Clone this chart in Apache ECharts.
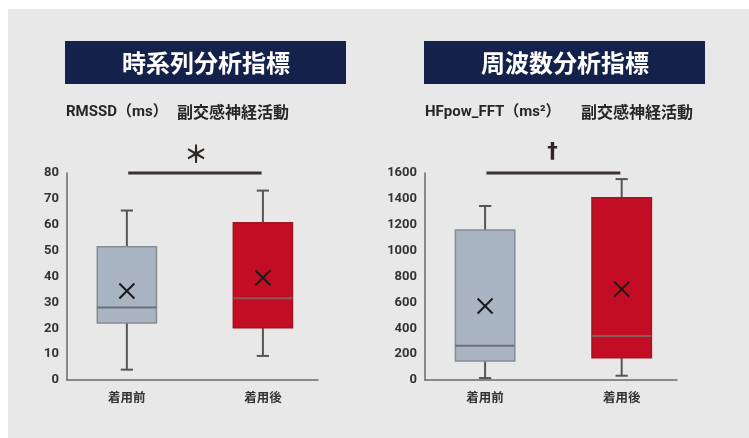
<!DOCTYPE html>
<html><head><meta charset="utf-8">
<script src="https://cdn.jsdelivr.net/npm/echarts@6/dist/echarts.min.js"></script>
<style>html,body{margin:0;padding:0;background:#fff;}#c{width:749px;height:438px;}</style>
</head><body><div id="c"></div>
<script>
// ---- data ----
const categories = ['着用前', '着用後'];
// [min, Q1, median, Q3, max]
const rmssdBox = [[4, 22, 28, 51.5, 65.5], [9.3, 20.2, 31.6, 60.8, 73.2]];
const rmssdMean = [34.4, 39.5];
const hfBox = [[15, 147, 265, 1159, 1345], [33, 172, 340, 1409, 1553]];
const hfMean = [572, 701];
const rmssdTicks = [0, 80, 10];   // min, max, interval
const hfTicks = [0, 1600, 200];
const sigSpan = [0.01, 0.99];
const rmssdSig = { level: 80, mark: '＊' };
const hfSig = { level: 1600, mark: '†' };

const fills = ['#a9b4c3', '#c20d24'];
const borders = ['#868c94', '#9e1720'];
const medians = ['#6a7078', '#8a5a58'];

function rows(box, mean) {
  return box.map((b, i) => [i].concat(b).concat([mean[i]]));
}

function renderBox(params, api) {
  const i = params.dataIndex;
  const x = api.value(0);
  const v = [1, 2, 3, 4, 5, 6].map(k => api.value(k));
  const p = val => api.coord([x, val]);
  const bw = api.size([0.435, 0])[0];
  const cw = api.size([0.09, 0])[0];
  const c = p(v[0])[0];
  const yMin = p(v[0])[1], yQ1 = p(v[1])[1], yMed = p(v[2])[1], yQ3 = p(v[3])[1], yMax = p(v[4])[1], yMean = p(v[5])[1];
  const wStyle = { stroke: '#555555', lineWidth: 2 };
  const s = 7.5;
  return {
    type: 'group',
    children: [
      { type: 'line', shape: { x1: c, y1: yMax, x2: c, y2: yQ3 }, style: wStyle },
      { type: 'line', shape: { x1: c - cw / 2, y1: yMax, x2: c + cw / 2, y2: yMax }, style: wStyle },
      { type: 'line', shape: { x1: c, y1: yMin, x2: c, y2: yQ1 }, style: wStyle },
      { type: 'line', shape: { x1: c - cw / 2, y1: yMin, x2: c + cw / 2, y2: yMin }, style: wStyle },
      { type: 'rect', shape: { x: c - bw / 2, y: yQ3, width: bw, height: yQ1 - yQ3 },
        style: { fill: fills[i], stroke: borders[i], lineWidth: 1.5 } },
      { type: 'line', shape: { x1: c - bw / 2, y1: yMed, x2: c + bw / 2, y2: yMed },
        style: { stroke: medians[i], lineWidth: 2 } },
      { type: 'line', shape: { x1: c - s, y1: yMean - s, x2: c + s, y2: yMean + s }, style: { stroke: '#1c1c1c', lineWidth: 2 } },
      { type: 'line', shape: { x1: c - s, y1: yMean + s, x2: c + s, y2: yMean - s }, style: { stroke: '#1c1c1c', lineWidth: 2 } }
    ]
  };
}

function renderSig(sig) {
  return function (params, api) {
    const lv = api.value(2);
    const a = api.coord([api.value(0), lv]);
    const b = api.coord([api.value(1), lv]);
    const star = sig.mark === '＊';
    return {
      type: 'group',
      children: [
        { type: 'line', shape: { x1: a[0], y1: a[1], x2: b[0], y2: b[1] }, style: { stroke: '#3a3230', lineWidth: 3 } },
        { type: 'text', x: (a[0] + b[0]) / 2 + (star ? 1 : -1), y: a[1] - (star ? 19 : 20),
          style: { text: sig.mark, fill: '#2e2624', align: 'center', verticalAlign: 'middle',
            font: star ? 'bold 24px "Noto Sans CJK JP"' : 'bold 21px "DejaVu Sans"' } }
      ]
    };
  };
}

const axisColor = '#6a6a6a';

function xAxisOf(gi) {
  return {
    type: 'value', gridIndex: gi, min: -0.44, max: 1.405,
    axisLine: { show: true, onZero: false, lineStyle: { color: axisColor, width: 1.5 } },
    axisTick: { show: false }, splitLine: { show: false },
    axisLabel: {
      customValues: [0, 1], formatter: v => categories[Math.round(v)] || '',
      margin: 11, fontFamily: 'Noto Sans CJK JP', fontWeight: 'bold', fontSize: 12.5, color: '#333'
    }
  };
}
function yAxisOf(gi, t) {
  return {
    type: 'value', gridIndex: gi, min: t[0], max: t[1], interval: t[2],
    axisLine: { show: true, onZero: false, lineStyle: { color: axisColor, width: 1.5 } },
    axisTick: { show: false }, splitLine: { show: false },
    axisLabel: { margin: 8, formatter: v => String(v), fontFamily: 'Roboto', fontWeight: 'bold', fontSize: 13, color: '#333' }
  };
}

const navy = '#14214b';
const latinFont = 'bold 15px Roboto, "Noto Sans CJK JP"';
const subFont = 'bold 16px "Noto Sans CJK JP"';
const chart = echarts.init(document.getElementById('c'), null, { renderer: 'canvas' });
chart.setOption({
  animation: false,
  backgroundColor: '#ffffff',
  graphic: [
    { type: 'rect', left: 8, top: 9, shape: { width: 741, height: 429 }, style: { fill: '#e8e8e8' }, z: -10 },
    { type: 'rect', left: 65, top: 41, shape: { width: 281, height: 43 }, style: { fill: navy } },
    { type: 'rect', left: 424, top: 41, shape: { width: 281, height: 43 }, style: { fill: navy } },
    { type: 'text', x: 206, y: 63, style: { text: '時系列分析指標', fill: '#fff', font: 'bold 24px "Noto Sans CJK JP"', align: 'center', verticalAlign: 'middle' } },
    { type: 'text', x: 565, y: 63, style: { text: '周波数分析指標', fill: '#fff', font: 'bold 24px "Noto Sans CJK JP"', align: 'center', verticalAlign: 'middle' } },
    { type: 'text', x: 66, y: 112, style: { text: 'RMSSD（ms）', fill: '#262626', font: latinFont, verticalAlign: 'middle' } },
    { type: 'text', x: 177, y: 112, style: { text: '副交感神経活動', fill: '#262626', font: subFont, verticalAlign: 'middle' } },
    { type: 'text', x: 425, y: 112, style: { text: 'HFpow_FFT（ms²）', fill: '#262626', font: latinFont, verticalAlign: 'middle' } },
    { type: 'text', x: 581, y: 112, style: { text: '副交感神経活動', fill: '#262626', font: subFont, verticalAlign: 'middle' } }
  ],
  grid: [
    { left: 67, top: 173, width: 251, height: 207 },
    { left: 425, top: 173, width: 252, height: 207 }
  ],
  xAxis: [xAxisOf(0), xAxisOf(1)],
  yAxis: [yAxisOf(0, rmssdTicks), yAxisOf(1, hfTicks)],
  series: [
    { type: 'custom', xAxisIndex: 0, yAxisIndex: 0, renderItem: renderBox, clip: false,
      encode: { x: 0, y: [1, 2, 3, 4, 5, 6] }, data: rows(rmssdBox, rmssdMean) },
    { type: 'custom', xAxisIndex: 1, yAxisIndex: 1, renderItem: renderBox, clip: false,
      encode: { x: 0, y: [1, 2, 3, 4, 5, 6] }, data: rows(hfBox, hfMean) },
    { type: 'custom', xAxisIndex: 0, yAxisIndex: 0, renderItem: renderSig(rmssdSig), clip: false, silent: true,
      encode: { x: [0, 1], y: 2 }, data: [[sigSpan[0], sigSpan[1], rmssdSig.level]] },
    { type: 'custom', xAxisIndex: 1, yAxisIndex: 1, renderItem: renderSig(hfSig), clip: false, silent: true,
      encode: { x: [0, 1], y: 2 }, data: [[sigSpan[0], sigSpan[1], hfSig.level]] }
  ]
});
</script></body></html>
